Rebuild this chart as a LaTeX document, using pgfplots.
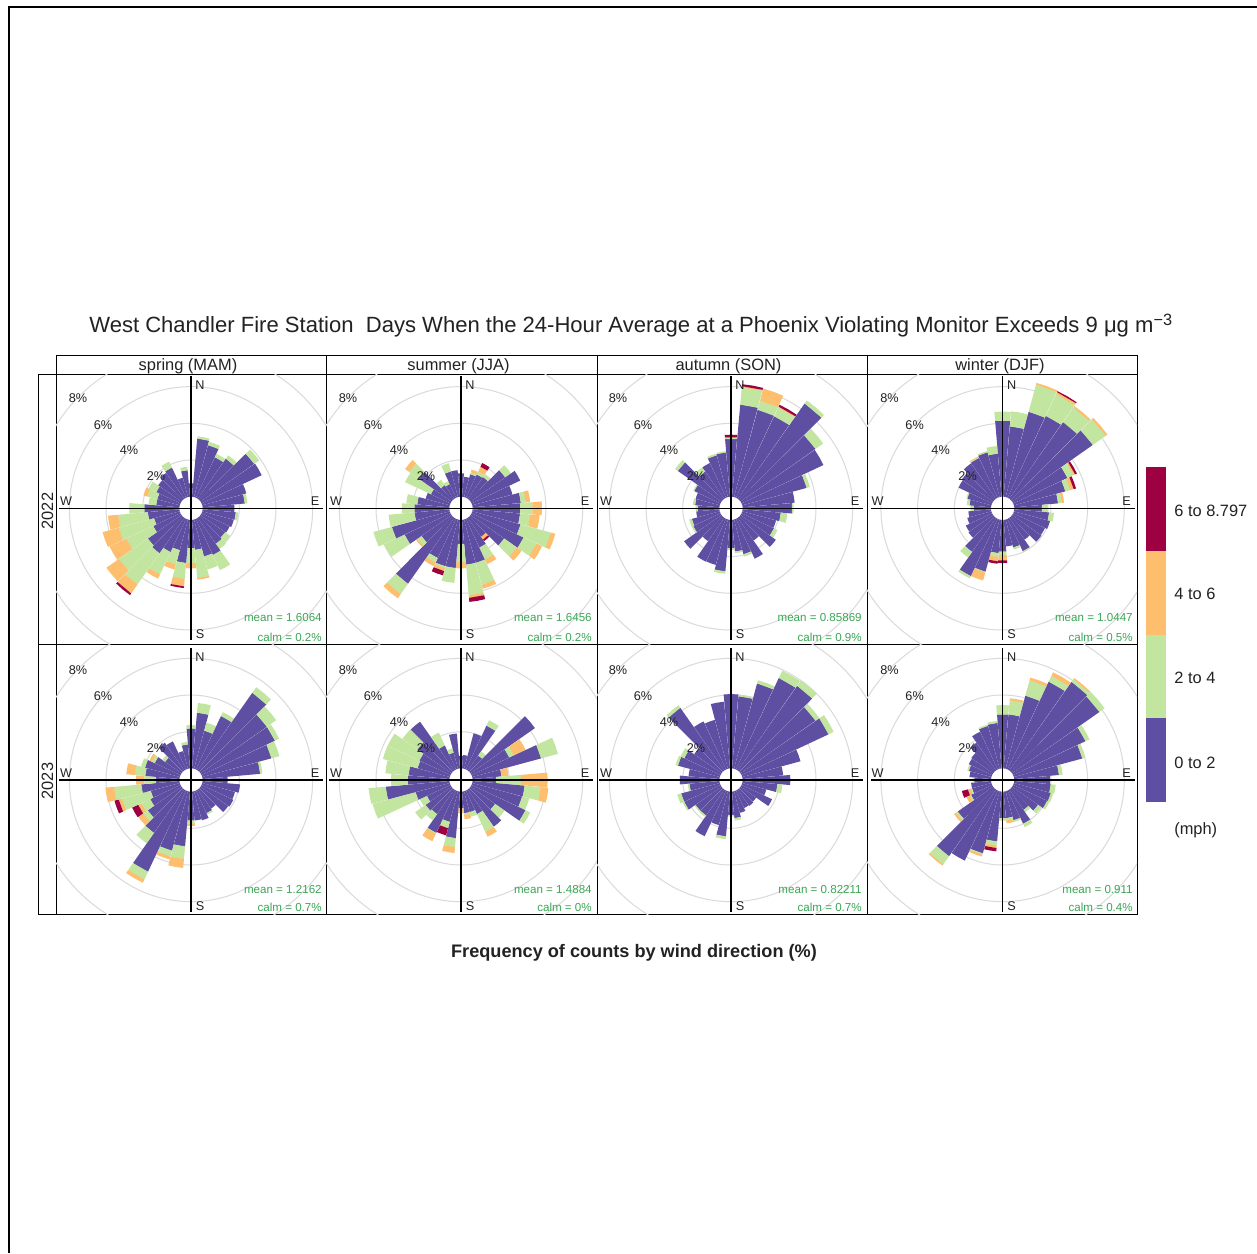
\documentclass[border=0pt]{standalone}
\usepackage{pgfplots}
\usepackage{pgfplotstable}
\usepackage{fontspec}
\setmainfont{Liberation Sans}
\pgfplotsset{compat=1.18}
\definecolor{wsA}{HTML}{5E4FA2}
\definecolor{wsB}{HTML}{C2E5A0}
\definecolor{wsC}{HTML}{FDBE6E}
\definecolor{wsD}{HTML}{9E0142}
\definecolor{gridc}{HTML}{DADADA}
\definecolor{statc}{HTML}{3AA655}
\definecolor{txt}{HTML}{222222}
% cumulative percent of counts per wind sector: dir, <2, <4, <6, <8.797 mph
\pgfplotstableread{
d a b c e
10 3.18 3.30 3.30 3.30
20 2.93 3.12 3.12 3.12
30 2.44 2.64 2.64 2.64
40 2.67 2.89 2.89 2.89
50 3.58 3.91 3.91 3.91
60 3.62 3.62 3.62 3.62
70 2.49 2.49 2.49 2.49
80 2.31 2.45 2.45 2.45
90 1.73 1.73 1.73 1.73
100 1.82 1.96 1.96 1.96
110 1.78 1.78 1.78 1.78
120 1.69 1.69 1.69 1.69
130 1.64 1.98 1.98 1.98
140 1.73 2.07 2.07 2.07
150 2.18 3.09 3.09 3.09
160 2.09 2.82 2.82 2.82
170 1.64 3.18 3.27 3.27
180 1.55 2.36 2.64 2.64
190 2.36 3.24 3.64 3.73
200 1.73 2.55 2.82 2.82
210 2.00 3.36 3.60 3.60
220 2.36 4.45 5.04 5.15
230 2.24 4.18 5.00 5.00
240 1.64 3.27 4.27 4.27
250 1.45 3.45 4.36 4.36
260 1.73 3.36 3.91 3.91
270 1.91 2.73 2.73 2.73
280 1.27 1.69 1.69 1.69
290 1.27 1.82 2.05 2.05
300 1.45 1.91 1.91 1.91
310 1.55 1.55 1.55 1.55
320 1.73 1.73 1.73 1.73
330 1.82 2.18 2.18 2.18
340 1.09 1.09 1.09 1.09
350 1.45 1.64 1.64 1.64
360 0.73 0.73 0.73 0.73
}\tabA
\pgfplotstableread{
d a b c e
10 1.09 1.09 1.09 1.09
20 1.29 1.40 1.55 1.55
30 1.40 1.58 1.87 2.09
40 1.45 1.65 1.65 1.65
50 2.31 2.69 2.69 2.69
60 2.93 2.93 2.93 2.93
70 2.27 2.27 2.27 2.27
80 2.64 2.91 3.15 3.15
90 2.60 3.27 3.78 3.78
100 2.60 3.15 3.67 3.67
110 2.73 4.45 4.69 4.69
120 3.13 3.91 4.24 4.24
130 2.24 3.09 3.40 3.40
140 1.27 1.27 1.45 1.55
150 1.73 2.45 2.73 2.73
160 2.45 3.69 3.91 3.91
170 2.45 4.13 4.27 4.49
180 1.31 2.27 2.64 2.64
190 2.64 3.45 3.45 3.45
200 2.64 2.73 2.91 3.15
210 2.36 2.64 2.85 2.85
220 4.40 5.09 5.36 5.36
230 2.00 2.27 2.36 2.36
240 2.76 4.00 4.00 4.00
250 3.27 4.31 4.31 4.31
260 1.91 3.33 3.33 3.33
270 1.91 2.60 2.60 2.60
280 1.76 2.36 2.36 2.36
290 1.36 1.36 1.36 1.36
300 1.18 2.73 2.73 2.73
310 2.18 2.82 3.09 3.09
320 0.91 1.27 1.27 1.27
330 0.82 1.00 1.00 1.00
340 1.45 1.91 1.91 1.91
350 1.45 1.45 1.45 1.45
360 1.27 1.27 1.27 1.27
}\tabB
\pgfplotstableread{
d a b c e
10 5.04 6.00 6.05 6.16
20 4.93 5.45 6.13 6.13
30 4.91 5.45 5.49 5.60
40 6.35 6.55 6.55 6.55
50 5.00 5.51 5.51 5.51
60 4.93 4.93 4.93 4.93
70 3.64 3.82 3.82 3.82
80 2.85 2.85 2.85 2.85
90 2.69 2.78 2.78 2.78
100 2.09 2.45 2.45 2.45
110 1.91 1.91 1.91 1.91
120 1.95 2.16 2.16 2.16
130 2.35 2.35 2.35 2.35
140 1.51 1.51 1.51 1.51
150 2.40 2.40 2.40 2.40
160 1.96 2.09 2.09 2.09
170 1.73 1.82 1.82 1.82
180 1.55 1.64 1.64 1.64
190 2.82 2.95 2.95 2.95
200 2.56 2.56 2.56 2.56
210 2.58 2.58 2.58 2.58
220 1.55 1.55 1.55 1.55
230 2.49 2.49 2.49 2.49
240 1.64 1.73 1.73 1.73
250 1.58 1.73 1.73 1.73
260 1.27 1.27 1.27 1.27
270 1.18 1.29 1.29 1.29
280 1.33 1.45 1.45 1.45
290 1.36 1.36 1.36 1.36
300 1.58 1.64 1.64 1.64
310 2.91 3.09 3.09 3.09
320 1.82 2.09 2.09 2.09
330 2.09 2.09 2.09 2.09
340 2.36 2.45 2.45 2.45
350 2.42 2.49 2.49 2.49
360 3.15 3.22 3.25 3.38
}\tabC
\pgfplotstableread{
d a b c e
10 3.85 4.67 4.67 4.67
20 4.82 6.36 6.45 6.45
30 4.93 6.24 6.36 6.42
40 5.11 6.09 6.18 6.18
50 5.38 6.24 6.35 6.35
60 3.27 3.64 3.73 3.84
70 2.91 3.18 3.38 3.51
80 2.40 2.60 2.73 2.73
90 1.51 1.87 1.87 1.87
100 1.91 2.18 2.18 2.18
110 2.04 2.04 2.04 2.04
120 1.91 1.91 1.91 1.91
130 1.95 1.95 1.95 1.95
140 1.45 1.45 1.45 1.45
150 1.95 2.00 2.00 2.00
160 1.58 1.69 1.69 1.69
170 1.45 1.45 1.45 1.45
180 1.73 1.91 2.22 2.35
190 1.82 2.04 2.27 2.40
200 2.95 3.00 3.44 3.44
210 3.45 3.58 3.58 3.58
220 2.27 2.64 2.64 2.64
230 1.64 1.64 1.64 1.64
240 1.58 1.58 1.58 1.58
250 1.36 1.36 1.36 1.36
260 1.24 1.24 1.24 1.24
270 0.95 1.13 1.13 1.13
280 1.18 1.33 1.33 1.33
290 1.36 1.42 1.42 1.42
300 2.02 2.02 2.02 2.02
310 2.09 2.09 2.09 2.09
320 2.36 2.36 2.36 2.36
330 2.40 2.45 2.49 2.49
340 2.53 2.60 2.60 2.60
350 2.36 2.78 2.78 2.78
360 4.15 4.64 4.64 4.64
}\tabD
\pgfplotstableread{
d a b c e
10 3.05 3.58 3.58 3.58
20 2.15 2.60 2.60 2.60
30 3.22 3.45 3.45 3.45
40 5.18 5.55 5.55 5.55
50 4.42 5.04 5.04 5.04
60 4.42 4.67 4.67 4.67
70 3.91 4.36 4.36 4.36
80 3.15 3.27 3.27 3.27
90 1.36 1.36 1.36 1.36
100 2.05 2.05 2.05 2.05
110 1.85 1.85 1.85 1.85
120 1.91 1.91 1.91 1.91
130 1.84 1.84 1.84 1.84
140 1.27 1.27 1.27 1.27
150 1.36 1.45 1.45 1.45
160 1.64 1.64 1.64 1.64
170 1.58 1.58 1.58 1.58
180 1.58 1.76 1.87 1.87
190 3.00 3.69 4.18 4.18
200 3.36 3.69 3.85 3.85
210 4.89 5.36 5.55 5.55
220 2.89 3.58 3.58 3.58
230 2.25 2.55 2.87 2.87
240 1.82 2.36 2.55 2.91
250 1.64 3.27 3.45 3.69
260 2.09 3.58 4.05 4.05
270 1.27 1.91 2.36 2.36
280 1.87 2.45 2.91 2.91
290 1.96 2.18 2.18 2.18
300 1.55 1.73 1.87 1.87
310 1.09 1.27 1.27 1.27
320 1.85 1.85 1.85 1.85
330 1.69 1.69 1.69 1.69
340 1.00 1.00 1.00 1.00
350 1.31 1.45 1.45 1.45
360 2.18 2.36 2.36 2.36
}\tabE
\pgfplotstableread{
d a b c e
10 0.73 0.73 0.73 0.73
20 2.00 2.00 2.00 2.00
30 2.64 2.96 2.96 2.96
40 1.00 1.27 1.27 1.27
50 4.29 4.29 4.29 4.29
60 2.27 2.55 3.25 3.25
70 3.89 4.84 4.84 4.84
80 1.58 1.58 1.96 1.96
90 1.27 2.64 4.09 4.09
100 2.85 3.73 4.15 4.15
110 2.82 3.22 3.22 3.22
120 3.25 3.53 3.53 3.53
130 1.64 2.27 2.27 2.27
140 2.47 2.47 2.47 2.47
150 1.42 2.49 2.78 2.78
160 1.18 1.44 1.44 1.44
170 1.18 1.27 1.51 1.51
180 0.91 0.91 1.18 1.18
190 2.55 3.04 3.36 3.36
200 1.73 2.09 2.09 2.49
210 2.55 2.60 3.05 3.05
220 1.64 2.05 2.05 2.05
230 1.73 2.42 2.42 2.42
240 1.42 1.84 1.84 1.84
250 1.93 4.36 4.36 4.36
260 3.49 4.42 4.42 4.42
270 2.27 3.18 3.18 3.18
280 2.24 3.51 3.51 3.51
290 1.82 3.78 3.78 3.78
300 1.87 3.78 3.78 3.78
310 2.27 3.27 3.27 3.27
320 3.25 3.25 3.25 3.25
330 1.45 2.22 2.22 2.22
340 0.91 1.15 1.15 1.15
350 1.91 1.91 1.91 1.91
360 0.69 0.69 0.69 0.69
}\tabF
\pgfplotstableread{
d a b c e
10 3.95 4.05 4.05 4.05
20 4.82 5.00 5.00 5.00
30 5.51 5.95 5.95 5.95
40 5.64 6.00 6.00 6.00
50 5.00 5.25 5.25 5.25
60 5.24 5.55 5.55 5.55
70 3.29 3.29 3.29 3.29
80 2.22 2.22 2.22 2.22
90 2.60 2.60 2.60 2.60
100 1.91 2.18 2.18 2.18
110 1.36 1.36 1.36 1.36
120 1.84 1.84 1.84 1.84
130 1.04 1.04 1.04 1.04
140 1.09 1.09 1.09 1.09
150 1.05 1.05 1.05 1.05
160 1.22 1.22 1.22 1.22
170 1.45 1.58 1.58 1.58
180 1.27 1.36 1.36 1.36
190 2.45 2.60 2.60 2.60
200 1.91 1.91 1.91 1.91
210 2.75 2.75 2.75 2.75
220 1.73 1.82 1.82 1.82
230 1.73 1.80 1.80 1.80
240 2.18 2.27 2.27 2.27
250 2.18 2.40 2.40 2.40
260 1.64 1.73 1.73 1.73
270 2.16 2.16 2.16 2.16
280 1.69 1.69 1.69 1.69
290 2.36 2.49 2.49 2.49
300 2.18 2.40 2.40 2.40
310 1.82 1.82 1.82 1.82
320 4.18 4.35 4.35 4.35
330 2.89 2.89 2.89 2.89
340 2.76 2.76 2.76 2.76
350 3.65 3.65 3.65 3.65
360 4.05 4.05 4.05 4.05
}\tabG
\pgfplotstableread{
d a b c e
10 2.96 3.73 3.84 3.84
20 4.13 5.00 5.15 5.15
30 5.29 5.64 5.85 5.85
40 5.91 6.09 6.16 6.16
50 5.82 6.16 6.16 6.16
60 4.36 4.60 4.60 4.60
70 3.87 4.04 4.04 4.04
80 2.45 2.65 2.65 2.65
90 1.96 1.96 1.96 1.96
100 2.00 2.27 2.27 2.27
110 2.09 2.22 2.22 2.22
120 2.05 2.18 2.18 2.18
130 1.73 1.95 1.95 1.95
140 1.36 1.51 1.51 1.51
150 2.00 2.20 2.20 2.20
160 1.64 1.73 1.73 1.73
170 1.45 1.58 1.73 1.73
180 1.45 1.58 1.58 1.58
190 2.73 2.96 3.09 3.27
200 3.51 3.58 3.69 3.69
210 4.22 4.22 4.22 4.22
220 4.45 5.00 5.07 5.07
230 2.36 2.49 2.60 2.60
240 1.27 1.36 1.55 1.55
250 1.09 1.18 1.33 1.67
260 1.09 1.09 1.09 1.09
270 0.91 1.00 1.00 1.00
280 1.18 1.18 1.18 1.18
290 1.27 1.36 1.36 1.36
300 1.40 1.40 1.40 1.40
310 1.45 1.45 1.45 1.45
320 1.85 1.85 1.85 1.85
330 2.27 2.27 2.27 2.27
340 2.42 2.49 2.49 2.49
350 2.49 2.60 2.60 2.60
360 2.95 3.45 3.45 3.45
}\tabH
\def\hole{0.636}
\def\hw{4.9}
\def\pxpct{18.333}
% one wedge of a sector: direction, inner and outer percent, colour
\newcommand\wedgeplot[4]{%
  \pgfmathsetmacro\rI{#2+\hole}\pgfmathsetmacro\rO{#3+\hole}%
  \pgfmathsetmacro\aL{#1-\hw}\pgfmathsetmacro\aR{#1+\hw}%
  \pgfmathsetmacro\xa{\rI*sin(\aL)}\pgfmathsetmacro\ya{\rI*cos(\aL)}%
  \pgfmathsetmacro\xb{\rI*sin(\aR)}\pgfmathsetmacro\yb{\rI*cos(\aR)}%
  \pgfmathsetmacro\xc{\rO*sin(\aR)}\pgfmathsetmacro\yc{\rO*cos(\aR)}%
  \pgfmathsetmacro\xm{\rO*sin(#1)}\pgfmathsetmacro\ym{\rO*cos(#1)}%
  \pgfmathsetmacro\xd{\rO*sin(\aL)}\pgfmathsetmacro\yd{\rO*cos(\aL)}%
  \edef\tmpplot{\noexpand\addplot[fill=#4,draw=none,forget plot] coordinates {(\xa,\ya)(\xb,\yb)(\xc,\yc)(\xm,\ym)(\xd,\yd)} -- cycle;}%
  \tmpplot}
\newcommand\rose[1]{%
  \pgfplotsforeachungrouped \ii in {0,...,35}{%
    \pgfplotstablegetelem{\ii}{d}\of{#1}\let\vD\pgfplotsretval
    \pgfplotstablegetelem{\ii}{a}\of{#1}\let\vA\pgfplotsretval
    \pgfplotstablegetelem{\ii}{b}\of{#1}\let\vB\pgfplotsretval
    \pgfplotstablegetelem{\ii}{c}\of{#1}\let\vC\pgfplotsretval
    \pgfplotstablegetelem{\ii}{e}\of{#1}\let\vE\pgfplotsretval
    \wedgeplot{\vD}{0}{\vA}{wsA}%
    \ifdim\vB pt>\vA pt \wedgeplot{\vD}{\vA}{\vB}{wsB}\fi
    \ifdim\vC pt>\vB pt \wedgeplot{\vD}{\vB}{\vC}{wsC}\fi
    \ifdim\vE pt>\vC pt \wedgeplot{\vD}{\vC}{\vE}{wsD}\fi
  }}
\newcommand\fsz[1]{\fontsize{#1}{#1}\selectfont}
% L T W H cx cy table
\newcommand\panel[7]{%
  \pgfmathsetmacro\pxmin{(#1-#5)/\pxpct}\pgfmathsetmacro\pxmax{(#1+#3-#5)/\pxpct}%
  \pgfmathsetmacro\pymin{(#6-#2-#4)/\pxpct}\pgfmathsetmacro\pymax{(#6-#2)/\pxpct}%
  \begin{axis}[at={(#1*0.6pt,-#2*0.6pt)},anchor=north west,scale only axis,
    width=#3*0.6pt,height=#4*0.6pt,xmin=\pxmin,xmax=\pxmax,ymin=\pymin,ymax=\pymax,
    xtick=\empty,ytick=\empty,axis line style={line width=0.6pt,black},clip=true]
    \draw[gridc,line width=0.6pt] (axis cs:0,0) circle [radius=2.636];
    \draw[gridc,line width=0.6pt] (axis cs:0,0) circle [radius=4.636];
    \draw[gridc,line width=0.6pt] (axis cs:0,0) circle [radius=6.636];
    \draw[gridc,line width=0.6pt] (axis cs:0,0) circle [radius=8.636];
    \rose{#7}
    \addplot[black,line width=0.85pt,forget plot] coordinates {(-7.2,0)(7.2,0)};
    \addplot[black,line width=0.85pt,forget plot] coordinates {(0,-7.2)(0,7.2)};
  \end{axis}}
\newcommand\ptxt[3]{\node[inner sep=0pt,text=txt,font=\fsz{7.6pt}] at ({(#1)*0.6pt},{-(#2)*0.6pt}) {#3};}
% cx cy (labels of a panel)
\newcommand\plabels[2]{%
  \ptxt{#1+9}{#2-123}{N}\ptxt{#1+9}{#2+126}{S}\ptxt{#1+124}{#2-7}{E}\ptxt{#1-125}{#2-7}{W}%
  \ptxt{#1-35}{#2-32}{2\%}\ptxt{#1-62}{#2-58}{4\%}\ptxt{#1-88}{#2-83.5}{6\%}\ptxt{#1-113}{#2-110}{8\%}}
\newcommand\stat[3]{\node[inner sep=0pt,anchor=east,text=statc,font=\fsz{6.95pt}] at (#1*0.6pt,-#2*0.6pt) {#3};}
\newcommand\bigt[3]{\node[inner sep=0pt,text=txt,font=\fsz{9.85pt},#1] at #2 {#3};}
\begin{document}
\begin{tikzpicture}
\useasboundingbox[fill=white] (0,0) rectangle (1257*0.6pt,-1253*0.6pt);
\draw[black,line width=1.2pt] (9*0.6pt,-1253*0.6pt) -- (9*0.6pt,-7*0.6pt) -- (1257*0.6pt,-7*0.6pt);
\panel{56}{374}{270}{270}{191}{508.3}{\tabA}
\panel{326}{374}{271}{270}{461}{508.3}{\tabB}
\panel{597}{374}{270}{270}{731}{508.3}{\tabC}
\panel{867}{374}{270}{270}{1002.6}{508.3}{\tabD}
\panel{56}{644}{270}{270}{191}{780}{\tabE}
\panel{326}{644}{271}{270}{461}{780}{\tabF}
\panel{597}{644}{270}{270}{731}{780}{\tabG}
\panel{867}{644}{270}{270}{1002.6}{780}{\tabH}
% legend bar
\begin{axis}[at={(1146*0.6pt,-802*0.6pt)},anchor=south west,scale only axis,width=20*0.6pt,height=335*0.6pt,
  xmin=0,xmax=1,ymin=0,ymax=4,hide axis]
  \addplot[fill=wsA,draw=none] coordinates {(0,0)(1,0)(1,1)(0,1)} -- cycle;
  \addplot[fill=wsB,draw=none] coordinates {(0,1)(1,1)(1,2)(0,2)} -- cycle;
  \addplot[fill=wsC,draw=none] coordinates {(0,2)(1,2)(1,3)(0,3)} -- cycle;
  \addplot[fill=wsD,draw=none] coordinates {(0,3)(1,3)(1,4)(0,4)} -- cycle;
\end{axis}
% strips
\draw[black,line width=0.6pt] (56*0.6pt,-374*0.6pt) -- (56*0.6pt,-355*0.6pt) -- (1137*0.6pt,-355*0.6pt) -- (1137*0.6pt,-374*0.6pt);
\foreach \xx in {326,597,867}{\draw[black,line width=0.6pt] (\xx*0.6pt,-355*0.6pt) -- (\xx*0.6pt,-374*0.6pt);}
\draw[black,line width=0.6pt] (56*0.6pt,-374*0.6pt) -- (38*0.6pt,-374*0.6pt) -- (38*0.6pt,-914*0.6pt) -- (56*0.6pt,-914*0.6pt);
\draw[black,line width=0.6pt] (38*0.6pt,-644*0.6pt) -- (56*0.6pt,-644*0.6pt);
\bigt{}{(188*0.6pt,-366*0.6pt)}{spring (MAM)}
\bigt{}{(458.5*0.6pt,-366*0.6pt)}{summer (JJA)}
\bigt{}{(728.5*0.6pt,-366*0.6pt)}{autumn (SON)}
\bigt{}{(1000*0.6pt,-366*0.6pt)}{winter (DJF)}
\bigt{rotate=90}{(47.5*0.6pt,-511*0.6pt)}{2022}
\bigt{rotate=90}{(47.5*0.6pt,-781*0.6pt)}{2023}
\plabels{191}{508.3}\plabels{461}{508.3}\plabels{731}{508.3}\plabels{1002.6}{508.3}
\plabels{191}{780}\plabels{461}{780}\plabels{731}{780}\plabels{1002.6}{780}
\stat{322}{617.5}{mean = 1.6064}\stat{322}{637.5}{calm = 0.2\%}
\stat{592}{617.5}{mean = 1.6456}\stat{592}{637.5}{calm = 0.2\%}
\stat{862}{617.5}{mean = 0.85869}\stat{862}{637.5}{calm = 0.9\%}
\stat{1133}{617.5}{mean = 1.0447}\stat{1133}{637.5}{calm = 0.5\%}
\stat{322}{889}{mean = 1.2162}\stat{322}{907.5}{calm = 0.7\%}
\stat{592}{889}{mean = 1.4884}\stat{592}{907.5}{calm = 0\%}
\stat{862}{889}{mean = 0.82211}\stat{862}{907.5}{calm = 0.7\%}
\stat{1133}{889}{mean = 0.911}\stat{1133}{907.5}{calm = 0.4\%}
% legend text
\bigt{anchor=west}{(1174*0.6pt,-511*0.6pt)}{6 to 8.797}
\bigt{anchor=west}{(1174*0.6pt,-594*0.6pt)}{4 to 6}
\bigt{anchor=west}{(1174*0.6pt,-678*0.6pt)}{2 to 4}
\bigt{anchor=west}{(1174*0.6pt,-763*0.6pt)}{0 to 2}
\bigt{anchor=west}{(1174*0.6pt,-830*0.6pt)}{(mph)}
% title and axis caption
\node[inner sep=0pt,anchor=base west,text=txt,font=\fsz{13.23pt}] at (89*0.6pt,-332.5*0.6pt) {West Chandler Fire Station\ \ Days When the 24-Hour Average at a Phoenix Violating Monitor Exceeds 9 μg m\raisebox{0.62ex}{\fsz{9.8pt}−3}};
\node[inner sep=0pt,text=txt,font=\fsz{10.88pt}\bfseries] at (634*0.6pt,-952.5*0.6pt) {Frequency of counts by wind direction (\%)};
\end{tikzpicture}
\end{document}
